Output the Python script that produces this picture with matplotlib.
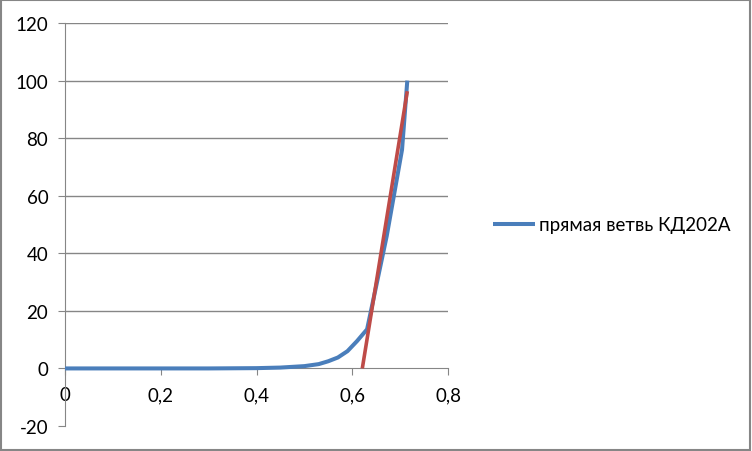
import matplotlib.pyplot as plt
from matplotlib.patches import Rectangle
from matplotlib.ticker import FuncFormatter

# прямая ветвь КД202А (blue curve)
u_fwd = [0.0, 0.1, 0.2, 0.3, 0.4, 0.45, 0.5, 0.53, 0.55, 0.57, 0.59, 0.61, 0.631, 0.672, 0.704, 0.715]
i_fwd = [0.0, 0.0, 0.0, 0.0, 0.1, 0.3, 0.8, 1.5, 2.5, 3.8, 6.0, 9.5, 13.6, 46.0, 76.0, 100.0]

# tangent line (red)
u_tan = [0.621, 0.715]
i_tan = [0.0, 96.3]

x_ticks = [0, 0.2, 0.4, 0.6, 0.8]
y_ticks = [-20, 0, 20, 40, 60, 80, 100, 120]

plt.rcParams['font.family'] = ['Lato', 'Noto Sans', 'DejaVu Sans']
plt.rcParams['font.size'] = 13.5

fig = plt.figure(figsize=(7.52, 4.52), dpi=100)
ax = fig.add_axes([65 / 752, 25 / 452, (448 - 65) / 752, (427 - 24) / 452])

grid_col = '#868686'
ax.plot(u_fwd, i_fwd, color='#4A7EBB', lw=2.9, solid_capstyle='butt',
        label='прямая ветвь КД202А', zorder=3)
ax.plot(u_tan, i_tan, color='#BE4B48', lw=2.6, solid_capstyle='butt', zorder=4)

ax.set_xlim(0, 0.8)
ax.set_ylim(-20, 120)
ax.set_xticks(x_ticks)
ax.set_yticks(y_ticks)
fmt = FuncFormatter(lambda v, p: ('%g' % v).replace('.', ','))
ax.xaxis.set_major_formatter(fmt)
ax.yaxis.set_major_formatter(fmt)

for t in y_ticks:
    if t > 0:
        ax.axhline(t, color=grid_col, lw=1, zorder=1)

ax.spines['top'].set_visible(False)
ax.spines['right'].set_visible(False)
ax.spines['bottom'].set_position(('data', 0))
ax.spines['bottom'].set_color(grid_col)
ax.spines['left'].set_color(grid_col)
ax.tick_params(axis='both', direction='out', length=5, color=grid_col,
               labelcolor='black')
ax.tick_params(axis='x', pad=8)
ax.tick_params(axis='y', pad=7)

fig.legend(loc='center left', bbox_to_anchor=(493 / 752, 1 - 226 / 452),
           frameon=False, borderpad=0, borderaxespad=0,
           handlelength=2.25, handletextpad=0.2, fontsize=13.5)

fig.patches.append(Rectangle((0.001, 0.002), 0.997, 0.995, transform=fig.transFigure,
                             fill=False, edgecolor='#868686', lw=1.5))

fig.savefig('out.png', dpi=100)
